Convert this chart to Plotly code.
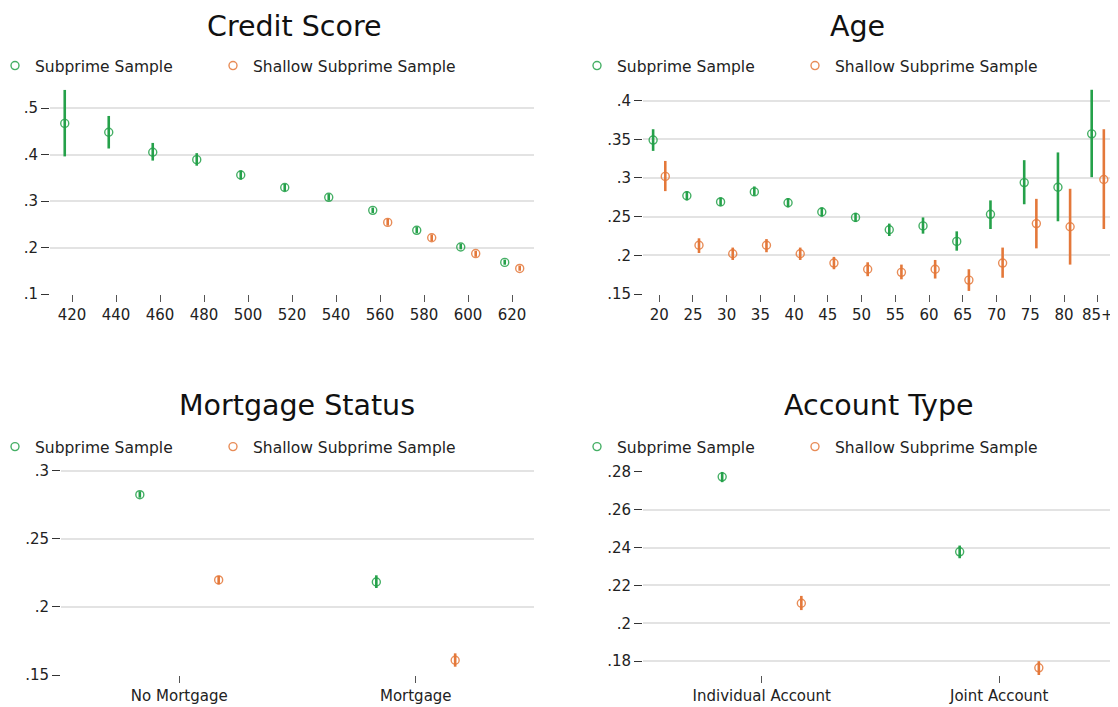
import plotly.graph_objects as go

# ---- data ----
credit_bins = [420, 440, 460, 480, 500, 520, 540, 560, 580, 600, 620]
credit_sub = [0.467, 0.448, 0.405, 0.389, 0.356, 0.329, 0.308, 0.280, 0.237, 0.201, 0.168]
credit_sub_lo = [0.396, 0.413, 0.387, 0.376, 0.346, 0.321, 0.301, 0.274, 0.231, 0.196, 0.163]
credit_sub_hi = [0.539, 0.483, 0.425, 0.403, 0.366, 0.337, 0.315, 0.286, 0.244, 0.208, 0.174]
credit_sh_bins = [560, 580, 600, 620]
credit_sh = [0.254, 0.221, 0.187, 0.155]
credit_sh_lo = [0.247, 0.214, 0.180, 0.150]
credit_sh_hi = [0.262, 0.228, 0.193, 0.161]

age_bins = [20, 25, 30, 35, 40, 45, 50, 55, 60, 65, 70, 75, 80, 85]
age_labels = ["20", "25", "30", "35", "40", "45", "50", "55", "60", "65", "70", "75", "80", "85+"]
age_sub = [0.349, 0.277, 0.269, 0.282, 0.268, 0.256, 0.249, 0.233, 0.238, 0.218, 0.253, 0.294, 0.288, 0.357]
age_sub_lo = [0.335, 0.271, 0.264, 0.277, 0.262, 0.250, 0.243, 0.225, 0.228, 0.206, 0.234, 0.266, 0.244, 0.301]
age_sub_hi = [0.363, 0.283, 0.275, 0.289, 0.274, 0.262, 0.255, 0.241, 0.249, 0.231, 0.271, 0.323, 0.333, 0.414]
age_sh = [0.302, 0.213, 0.202, 0.213, 0.202, 0.190, 0.182, 0.178, 0.182, 0.168, 0.190, 0.241, 0.237, 0.298]
age_sh_lo = [0.283, 0.203, 0.194, 0.204, 0.194, 0.182, 0.173, 0.169, 0.170, 0.154, 0.171, 0.209, 0.188, 0.234]
age_sh_hi = [0.322, 0.222, 0.210, 0.221, 0.210, 0.198, 0.191, 0.188, 0.194, 0.182, 0.210, 0.273, 0.286, 0.363]

mort_cats = ["No Mortgage", "Mortgage"]
mort_sub = [0.2824, 0.2183]
mort_sub_lo = [0.2802, 0.2139]
mort_sub_hi = [0.2849, 0.2232]
mort_sh = [0.2198, 0.1608]
mort_sh_lo = [0.2166, 0.1561]
mort_sh_hi = [0.2229, 0.1659]

acct_cats = ["Individual Account", "Joint Account"]
acct_sub = [0.2774, 0.2378]
acct_sub_lo = [0.2746, 0.2344]
acct_sub_hi = [0.2800, 0.2411]
acct_sh = [0.2106, 0.1765]
acct_sh_lo = [0.2070, 0.1727]
acct_sh_hi = [0.2145, 0.1800]

GREEN = "#25a14a"
ORANGE = "#e4783a"
FONT = "DejaVu Sans"

# the page body has an 8px margin, so the figure is shrunk by that and
# reference pixel positions are shifted by it
OFF = 8
W, H = 1118 - OFF, 707 - OFF


def fx(x):
    return (x - OFF) / W


def fy(y):
    return 1 - (y - OFF) / H


fig = go.Figure()

legend_no = [0]


def add_pair(xs_sub, ys_sub, lo_sub, hi_sub, xs_sh, ys_sh, lo_sh, hi_sh, xa, ya):
    for xs, ys, lo, hi, col, name in [
        (xs_sub, ys_sub, lo_sub, hi_sub, GREEN, "Subprime Sample"),
        (xs_sh, ys_sh, lo_sh, hi_sh, ORANGE, "Shallow Subprime Sample"),
    ]:
        legend_no[0] += 1
        leg = "legend" if legend_no[0] == 1 else "legend%d" % legend_no[0]
        fig.add_trace(go.Scatter(
            x=xs, y=ys, mode="markers", name=name,
            xaxis=xa, yaxis=ya, legend=leg, showlegend=True,
            marker=dict(symbol="circle-open", size=8, color=col, line=dict(width=1.4, color=col), opacity=0.85),
            error_y=dict(type="data", symmetric=False,
                         array=[h - m for h, m in zip(hi, ys)],
                         arrayminus=[m - l for m, l in zip(ys, lo)],
                         width=0, thickness=2.6, color=col),
        ))


add_pair([b - 3.3 for b in credit_bins], credit_sub, credit_sub_lo, credit_sub_hi,
         [b + 3.5 for b in credit_sh_bins], credit_sh, credit_sh_lo, credit_sh_hi, "x", "y")
add_pair([b - 0.9 for b in age_bins], age_sub, age_sub_lo, age_sub_hi,
         [b + 0.9 for b in age_bins], age_sh, age_sh_lo, age_sh_hi, "x2", "y2")
add_pair([i + 1 - 1 / 6 for i in range(2)], mort_sub, mort_sub_lo, mort_sub_hi,
         [i + 1 + 1 / 6 for i in range(2)], mort_sh, mort_sh_lo, mort_sh_hi, "x3", "y3")
add_pair([i + 1 - 1 / 6 for i in range(2)], acct_sub, acct_sub_lo, acct_sub_hi,
         [i + 1 + 1 / 6 for i in range(2)], acct_sh, acct_sh_lo, acct_sh_hi, "x4", "y4")


def fmt(v):
    s = ("%g" % v)
    return s[1:] if s.startswith("0.") else s


def xaxis(x0, x1, anchor, **kw):
    d = dict(domain=[fx(x0), fx(x1)], anchor=anchor, showgrid=False, zeroline=False, showline=False,
             ticks="outside", ticklen=7, tickwidth=1.2, tickcolor="#555555",
             tickfont=dict(size=15, color="#222222", family=FONT))
    d.update(kw)
    return d


def yaxis(top, bottom, anchor, rng, vals):
    return dict(domain=[fy(bottom), fy(top)], anchor=anchor, range=rng, showgrid=True,
                gridcolor="#e3e3e3", gridwidth=1.6,
                zeroline=False, showline=False, ticks="outside", ticklen=8, tickwidth=1.2,
                tickcolor="#333333", tickvals=vals, ticktext=[fmt(v) for v in vals],
                tickfont=dict(size=15, color="#222222", family=FONT))


def legend_at(x_sym, y_mid):
    return dict(x=fx(x_sym - 20), y=fy(y_mid), xanchor="left", yanchor="middle",
                orientation="h", font=dict(size=15.5, color="#222222", family=FONT),
                bgcolor="rgba(0,0,0,0)", itemwidth=30, visible=True)


fig.update_layout(
    width=W, height=H,
    margin=dict(l=0, r=0, t=0, b=0, autoexpand=False),
    plot_bgcolor="white", paper_bgcolor="white",
    font=dict(family=FONT),
    showlegend=True,
    xaxis=xaxis(50, 534, "y", range=[410, 630], tickvals=list(range(420, 621, 20))),
    yaxis=yaxis(89, 294, "x", [0.1, 0.541], [0.1, 0.2, 0.3, 0.4, 0.5]),
    xaxis2=xaxis(643, 1118, "y2", range=[17.6, 88], tickvals=age_bins, ticktext=age_labels),
    yaxis2=yaxis(89, 294, "x2", [0.15, 0.415], [0.15, 0.2, 0.25, 0.3, 0.35, 0.4]),
    xaxis3=xaxis(61, 534, "y3", range=[0.5, 2.5], tickvals=[1, 2], ticktext=mort_cats),
    yaxis3=yaxis(468, 675, "x3", [0.15, 0.302], [0.15, 0.2, 0.25, 0.3]),
    xaxis4=xaxis(643, 1118, "y4", range=[0.5, 2.5], tickvals=[1, 2], ticktext=acct_cats),
    yaxis4=yaxis(471, 675, "x4", [0.1727, 0.2805], [0.18, 0.2, 0.22, 0.24, 0.26, 0.28]),
    legend=legend_at(15, 66),
    legend2=legend_at(233, 66),
    legend3=legend_at(597, 66),
    legend4=legend_at(815, 66),
    legend5=legend_at(15, 447),
    legend6=legend_at(233, 447),
    legend7=legend_at(597, 447),
    legend8=legend_at(815, 447),
)

# titles: (text, centre x, top of text box) in reference pixels
titles = [("Credit Score", 294, 8), ("Age", 857, 8), ("Mortgage Status", 297, 387), ("Account Type", 879, 387)]
for text, cx, top in titles:
    fig.add_annotation(text=text, x=fx(cx), y=fy(top), xref="paper", yref="paper",
                       showarrow=False, xanchor="center", yanchor="top",
                       font=dict(size=28.5, color="#111111", family=FONT))

fig.write_html("out.html")
